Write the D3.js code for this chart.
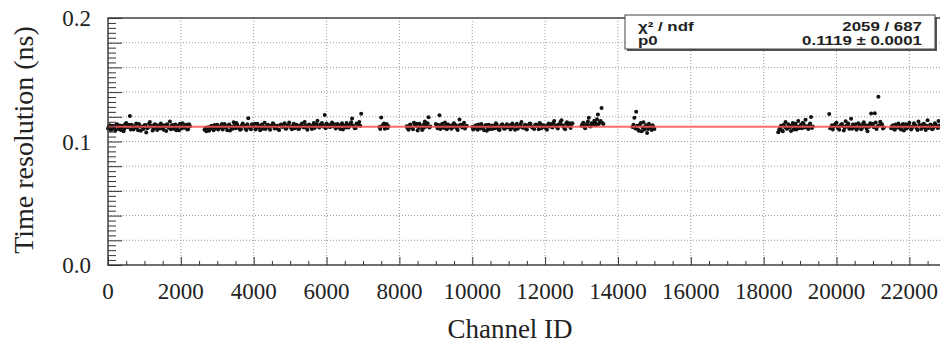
<!DOCTYPE html>
<html>
<head>
<meta charset="utf-8">
<script src="https://cdn.jsdelivr.net/npm/d3@7"></script>
<style>
  html, body { margin: 0; padding: 0; background: #fff; }
  svg { display: block; }
</style>
</head>
<body>
<svg id="chart" width="940" height="345"></svg>
<script>
// Per-channel timing resolution (ns), grouped into contiguous channel blocks.
// Each block starts at blockStart and holds one value per 25 channels.
const channelStep = 25;
const blockStart = [0, 2650, 7450, 8200, 9000, 10000, 13000, 14400, 18400, 19800, 21500];
const block0 = [0.1105,0.1121,0.1132,0.1094,0.1098,0.1127,0.1121,0.1109,0.1087,0.1136,
  0.1140,0.1102,0.1116,0.1129,0.1093,0.1113,0.1128,0.1083,0.1102,0.1141,
  0.1150,0.1117,0.1118,0.1135,0.1206,0.1098,0.1135,0.1124,0.1097,0.1110,
  0.1124,0.1145,0.1109,0.1092,0.1142,0.1126,0.1088,0.1119,0.1119,0.1101,
  0.1131,0.1133,0.1072,0.1107,0.1113,0.1144,0.1158,0.1122,0.1126,0.1090,
  0.1101,0.1138,0.1137,0.1116,0.1094,0.1129,0.1122,0.1105,0.1145,0.1132,
  0.1108,0.1096,0.1131,0.1123,0.1085,0.1140,0.1117,0.1111,0.1162,0.1099,
  0.1129,0.1134,0.1103,0.1120,0.1138,0.1091,0.1115,0.1127,0.1092,0.1143,
  0.1127,0.1106,0.1148,0.1118,0.1111,0.1130,0.1135,0.1097,0.1099,0.1139,
  0.1124];
const block1 = [0.1096,0.1112,0.1083,0.1099,0.1115,0.1088,0.1102,0.1124,0.1128,0.1105,
  0.1091,0.1133,0.1119,0.1108,0.1136,0.1097,0.1107,0.1121,0.1124,0.1142,
  0.1098,0.1115,0.1141,0.1126,0.1113,0.1092,0.1130,0.1138,0.1089,0.1118,
  0.1122,0.1103,0.1155,0.1127,0.1108,0.1149,0.1135,0.1111,0.1117,0.1096,
  0.1100,0.1131,0.1146,0.1123,0.1126,0.1104,0.1094,0.1140,0.1188,0.1116,
  0.1111,0.1099,0.1139,0.1128,0.1121,0.1143,0.1097,0.1109,0.1143,0.1125,
  0.1116,0.1091,0.1129,0.1137,0.1104,0.1118,0.1152,0.1102,0.1118,0.1134,
  0.1133,0.1112,0.1095,0.1126,0.1125,0.1147,0.1140,0.1106,0.1110,0.1121,
  0.1127,0.1098,0.1093,0.1132,0.1137,0.1119,0.1119,0.1140,0.1148,0.1103,
  0.1106,0.1127,0.1131,0.1154,0.1122,0.1114,0.1099,0.1130,0.1144,0.1108,
  0.1115,0.1136,0.1128,0.1101,0.1103,0.1125,0.1136,0.1145,0.1120,0.1113,
  0.1157,0.1129,0.1112,0.1096,0.1134,0.1138,0.1124,0.1117,0.1101,0.1131,
  0.1149,0.1110,0.1127,0.1141,0.1168,0.1123,0.1114,0.1135,0.1139,0.1150,
  0.1121,0.1129,0.1215,0.1107,0.1145,0.1133,0.1130,0.1119,0.1117,0.1142,
  0.1153,0.1124,0.1126,0.1139,0.1105,0.1115,0.1142,0.1131,0.1119,0.1102,
  0.1135,0.1147,0.1098,0.1126,0.1128,0.1113,0.1150,0.1136,0.1113,0.1121,
  0.1138,0.1155,0.1186,0.1129,0.1124,0.1108,0.1109,0.1146,0.1141,0.1133,
  0.1158,0.1127,0.1225];
const block2 = [0.1118,0.1102,0.1195,0.1127,0.1132,0.1145,0.1104,0.1121,0.1141,0.1110,0.1123];
const block3 = [0.1124,0.1108,0.1096,0.1131,0.1138,0.1115,0.1110,0.1099,0.1152,0.1136,
  0.1127,0.1144,0.1089,0.1112,0.1143,0.1128,0.1118,0.1093,0.1105,0.1139,
  0.1161,0.1120,0.1133,0.1148,0.1196,0.1114,0.1121];
const block4 = [0.1142,0.1125,0.1108,0.1133,0.1212,0.1101,0.1130,0.1144,0.1117,0.1109,
  0.1154,0.1128,0.1099,0.1137,0.1136,0.1115,0.1125,0.1103,0.1112,0.1140,
  0.1147,0.1121,0.1131,0.1108,0.1094,0.1126,0.1178,0.1135,0.1122,0.1113,
  0.1139,0.1151,0.1106,0.1119,0.1128];
const block5 = [0.1118,0.1097,0.1103,0.1126,0.1131,0.1112,0.1095,0.1138,0.1124,0.1106,
  0.1142,0.1121,0.1109,0.1091,0.1127,0.1133,0.1087,0.1114,0.1136,0.1100,
  0.1115,0.1129,0.1101,0.1123,0.1129,0.1107,0.1148,0.1135,0.1112,0.1098,
  0.1093,0.1119,0.1134,0.1140,0.1120,0.1104,0.1106,0.1127,0.1139,0.1116,
  0.1125,0.1132,0.1098,0.1110,0.1146,0.1128,0.1117,0.1096,0.1131,0.1143,
  0.1104,0.1118,0.1122,0.1137,0.1158,0.1113,0.1111,0.1124,0.1135,0.1102,
  0.1097,0.1130,0.1128,0.1145,0.1143,0.1119,0.1114,0.1108,0.1102,0.1133,
  0.1137,0.1126,0.1123,0.1099,0.1150,0.1141,0.1108,0.1116,0.1132,0.1127,
  0.1119,0.1105,0.1096,0.1134,0.1145,0.1121,0.1126,0.1140,0.1113,0.1152,
  0.1165,0.1129,0.1130,0.1117,0.1105,0.1138,0.1141,0.1160,0.1172,0.1131,
  0.1121,0.1109,0.1099,0.1143,0.1156,0.1127,0.1134,0.1148,0.1110,0.1139,
  0.1147];
const block6 = [0.1128,0.1141,0.1152,0.1119,0.1107,0.1133,0.1139,0.1162,0.1193,0.1125,
  0.1121,0.1148,0.1146,0.1137,0.1168,0.1155,0.1134,0.1181,0.1218,0.1142,
  0.1157,0.1166,0.1272,0.1149,0.1141];
const block7 = [0.1118,0.1136,0.1192,0.1105,0.1241,0.1127,0.1097,0.1088,0.1135,0.1149,
  0.1082,0.1114,0.1156,0.1098,0.1124,0.1131,0.1068,0.1101,0.1143,0.1122,
  0.1109,0.1093,0.1131,0.1117,0.1102];
const block8 = [0.1074,0.1096,0.1112,0.1128,0.1091,0.1083,0.1135,0.1119,0.1158,0.1106,
  0.1103,0.1139,0.1127,0.1115,0.1086,0.1131,0.1149,0.1097,0.1118,0.1143,
  0.1097,0.1122,0.1165,0.1108,0.1124,0.1137,0.1108,0.1152,0.1141,0.1113,
  0.1176,0.1124,0.1115,0.1101,0.1132,0.1145,0.1198,0.1110,0.1121];
const block9 = [0.1223,0.1108,0.1116,0.1131,0.1098,0.1122,0.1134,0.1143,0.1151,0.1117,
  0.1107,0.1095,0.1128,0.1136,0.1142,0.1125,0.1089,0.1112,0.1163,0.1130,
  0.1121,0.1146,0.1104,0.1118,0.1185,0.1103,0.1137,0.1127,0.1112,0.1139,
  0.1095,0.1110,0.1148,0.1133,0.1126,0.1099,0.1109,0.1141,0.1156,0.1124,
  0.1132,0.1105,0.1083,0.1129,0.1119,0.1147,0.1226,0.1138,0.1141,0.1115,
  0.1228,0.1153,0.1102,0.1123,0.1362,0.1131,0.1159,0.1144,0.1137,0.1106,
  0.1114];
const block10 = [0.1108,0.1126,0.1132,0.1101,0.1095,0.1138,0.1121,0.1113,0.1146,0.1129,
  0.1103,0.1097,0.1127,0.1141,0.1089,0.1118,0.1139,0.1106,0.1115,0.1133,
  0.1152,0.1120,0.1098,0.1111,0.1124,0.1147,0.1136,0.1125,0.1107,0.1094,
  0.1161,0.1134,0.1129,0.1102,0.1112,0.1140,0.1143,0.1116,0.1093,0.1128,
  0.1172,0.1109,0.1118,0.1137,0.1131,0.1099,0.1105,0.1123,0.1148,0.1135,
  0.1122,0.1110,0.1166,0.1130,0.1114];
const blocks = [block0, block1, block2, block3, block4, block5, block6, block7, block8, block9, block10];

// Constant fit result
const fitP0 = 0.1119;
const statsRows = [["\u03c7\u00b2 / ndf", "2059 / 687"], ["p0", "0.1119 \u00b1 0.0001"]];

const xTicks = [0, 2000, 4000, 6000, 8000, 10000, 12000, 14000, 16000, 18000, 20000, 22000];
const yLabelTicks = [0.0, 0.1, 0.2];
const xTitle = "Channel ID";
const yTitle = "Time resolution (ns)";

const points = [];
blocks.forEach((vals, b) => vals.forEach((v, i) => points.push({ ch: blockStart[b] + i * channelStep, v })));

const svg = d3.select("#chart");
const plotL = 108, plotR = 940, plotT = 18, plotB = 265;
const x = d3.scaleLinear().domain([0, 22841]).range([plotL, plotR]);
const y = d3.scaleLinear().domain([0, 0.2]).range([plotB, plotT]);

// grid
const grid = svg.append("g").attr("stroke", "#9a9a9a").attr("stroke-width", 1).attr("stroke-dasharray", "1,2");
xTicks.filter(t => t > 0).forEach(t => {
  grid.append("line").attr("x1", x(t)).attr("x2", x(t)).attr("y1", plotT).attr("y2", plotB);
});
d3.range(1, 10).map(k => k * 0.02).forEach(t => {
  grid.append("line").attr("x1", plotL).attr("x2", plotR).attr("y1", y(t)).attr("y2", y(t));
});

// data points
svg.append("g").selectAll("circle").data(points).join("circle")
  .attr("cx", d => x(d.ch)).attr("cy", d => y(d.v)).attr("r", 2)
  .attr("fill", "#111");

// fit line
svg.append("line")
  .attr("x1", plotL).attr("x2", plotR)
  .attr("y1", y(fitP0)).attr("y2", y(fitP0))
  .attr("stroke", "#ff5050").attr("stroke-opacity", 0.85).attr("stroke-width", 2);

// x axis ticks (inward)
const xAxis = d3.axisTop(x).tickValues(d3.range(0, 22841, 500)).tickSize(4).tickFormat("");
const gx = svg.append("g").attr("transform", `translate(0,${plotB})`).call(xAxis);
gx.select(".domain").remove();
gx.selectAll(".tick line").attr("stroke", "#333")
  .attr("y2", d => (d % 2000 === 0 ? -8 : -4));

// y axis ticks (inward)
const yMinor = d3.range(0, 51).map(k => k * 0.004);
const yAxis = d3.axisRight(y).tickValues(yMinor).tickSize(8).tickFormat("");
const gy = svg.append("g").attr("transform", `translate(${plotL},0)`).call(yAxis);
gy.select(".domain").remove();
gy.selectAll(".tick line").attr("stroke", "#333")
  .attr("x2", (d, i) => (i % 5 === 0 ? 14 : 8));

// frame
svg.append("rect").attr("x", plotL).attr("y", plotT).attr("width", 845).attr("height", plotB - plotT)
  .attr("fill", "none").attr("stroke", "#333").attr("stroke-width", 1.4);

// tick labels
const serif = "'Liberation Serif', 'Times New Roman', serif";
svg.append("g").selectAll("text").data(xTicks).join("text")
  .attr("x", d => x(d)).attr("y", 299)
  .attr("text-anchor", "middle")
  .attr("font-family", serif).attr("font-size", 23).attr("fill", "#222")
  .text(d => d);
svg.append("g").selectAll("text").data(yLabelTicks).join("text")
  .attr("x", 91).attr("y", d => y(d) + 8)
  .attr("text-anchor", "end")
  .attr("font-family", serif).attr("font-size", 23).attr("fill", "#222")
  .text(d => d.toFixed(1));

// axis titles
svg.append("text").attr("x", 510).attr("y", 338).attr("text-anchor", "middle")
  .attr("font-family", serif).attr("font-size", 27).attr("fill", "#222").text(xTitle);
svg.append("text").attr("transform", "translate(33,140) rotate(-90)").attr("text-anchor", "middle")
  .attr("font-family", serif).attr("font-size", 28).attr("fill", "#222").text(yTitle);

// fit statistics box
const sb = { x: 625, y: 15, w: 310, h: 34 };
svg.append("rect").attr("x", sb.x + 2).attr("y", sb.y + 2).attr("width", sb.w).attr("height", sb.h).attr("fill", "#555");
svg.append("rect").attr("x", sb.x).attr("y", sb.y).attr("width", sb.w).attr("height", sb.h)
  .attr("fill", "#fff").attr("stroke", "#444").attr("stroke-width", 1);
const sans = "'Liberation Sans', Arial, sans-serif";
const sx = 1.25;
statsRows.forEach((r, i) => {
  const by = 30.5 + i * 14;
  svg.append("text").attr("transform", `translate(638,${by}) scale(${sx},1)`)
    .attr("font-family", sans).attr("font-weight", "bold").attr("font-size", 13.5)
    .attr("fill", "#222").text(r[0]);
  svg.append("text").attr("transform", `translate(922,${by}) scale(${sx},1)`).attr("text-anchor", "end")
    .attr("font-family", sans).attr("font-weight", "bold").attr("font-size", 13.5)
    .attr("fill", "#222").text(r[1]);
});
</script>
</body>
</html>
